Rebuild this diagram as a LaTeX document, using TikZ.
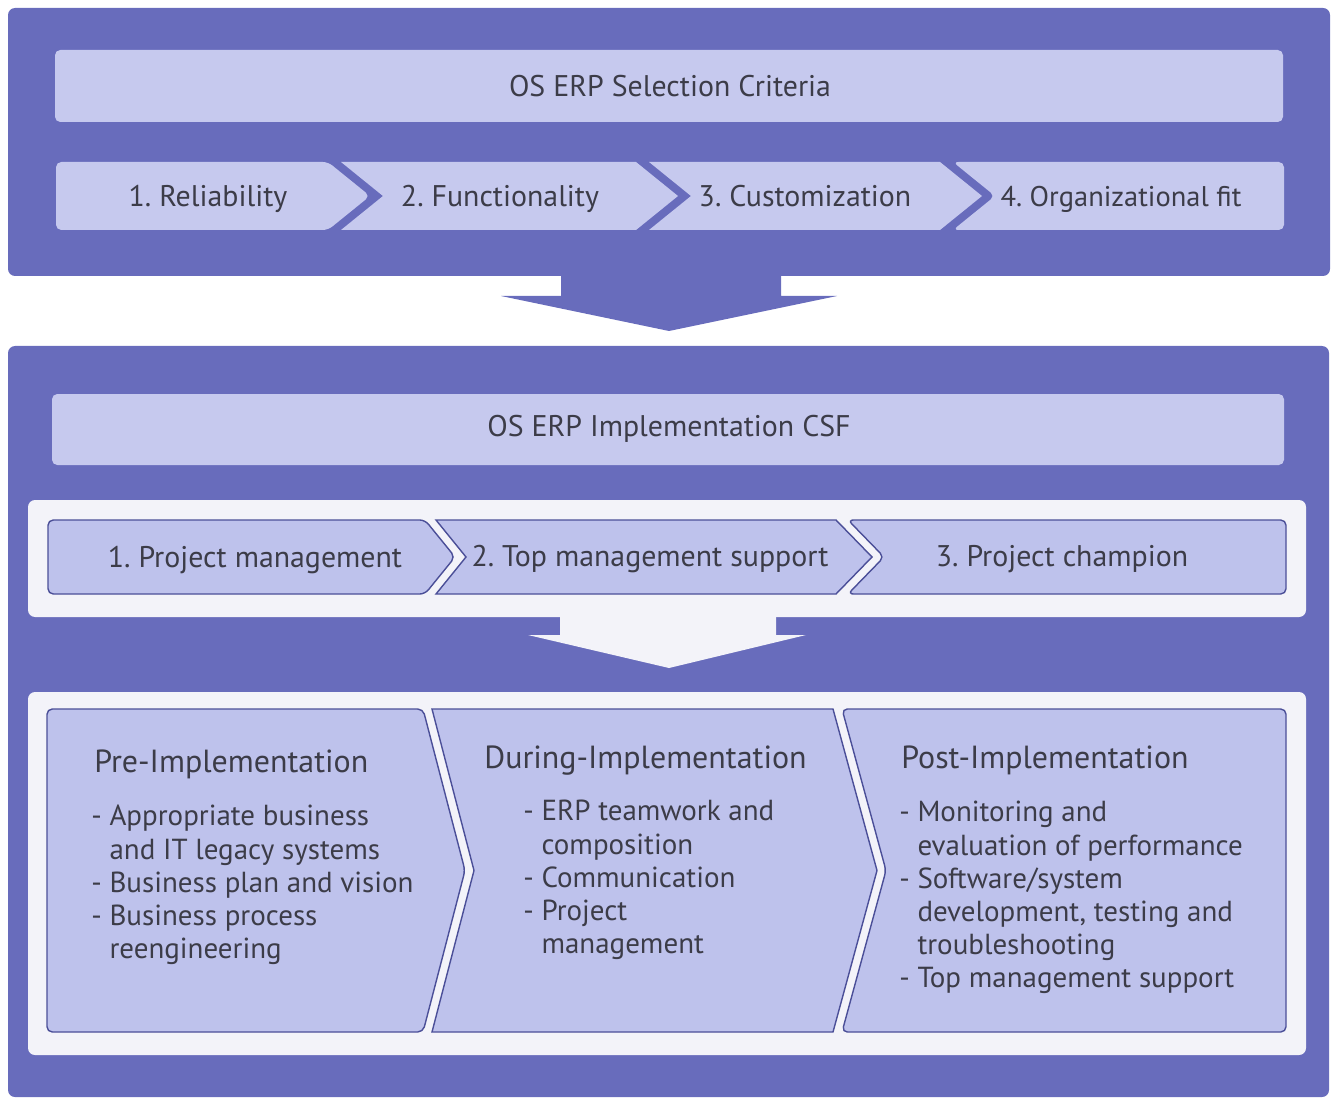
\documentclass[tikz,border=0pt]{standalone}
\usepackage{fontspec}
\setmainfont{PT Sans}
\frenchspacing
\definecolor{boxblue}{RGB}{104,108,188}
\definecolor{barblue}{RGB}{198,201,238}
\definecolor{chevblue}{RGB}{190,194,236}
\definecolor{edgeblue}{RGB}{75,79,152}
\definecolor{panelwhite}{RGB}{243,243,249}
\definecolor{inkgray}{RGB}{60,60,72}
% chevron: [style](left,top)(right,bottom)(notch:tip)
\def\chevron[#1](#2,#3)(#4,#5)(#6:#7){\path[#1] (#2,#3) -- (#4,#3) -- ({#4+#7},{(#3+#5)/2}) -- (#4,#5) -- (#2,#5) -- ({#2+#6},{(#3+#5)/2}) -- cycle;}

\begin{document}
\begin{tikzpicture}[x=0.02cm,y=-0.02cm,
	lbl/.style={text=inkgray,font=\fontsize{17}{20}\selectfont,inner sep=0pt,text height=1.5ex,text depth=0.3ex,yshift=-2.8pt},
	head/.style={text=inkgray,font=\fontsize{18.2}{21}\selectfont,inner sep=0pt,anchor=west,text height=1.5ex,text depth=0.3ex,yshift=-2.8pt},
	items/.style={text=inkgray,font=\fontsize{16.5}{18.9}\selectfont,inner sep=0pt,anchor=north west,align=left}]
	%%%%% START %%%%%
	\def\tipd{42}
	\def\rr{3pt}
	\useasboundingbox (0,0) rectangle (1337,1104);

	% selection criteria block
	\fill[boxblue,rounded corners=4pt] (8,8) rectangle (1330,276);
	\fill[barblue,rounded corners=\rr] (55,50) rectangle (1283,122);
	\node[lbl] (sel) at (670,86) {OS ERP Selection Criteria};

	\chevron[fill=barblue,rounded corners=\rr](56,162)(328,230)(0:\tipd)
	\chevron[fill=barblue](341,162)(636,230)(\tipd:\tipd)
	\chevron[fill=barblue](649,162)(940,230)(\tipd:\tipd)
	\chevron[fill=barblue,rounded corners=\rr](953,162)(1284,230)(\tipd:0)
	\node[lbl] (rel) at (208,196) {1. Reliability};
	\node[lbl] (fun) at (500,196) {2. Functionality};
	\node[lbl] (cus) at (805,196) {3. Customization};
	\node[lbl,font=\fontsize{16.2}{19}\selectfont] (org) at (1121,196) {4. Organizational fit};

	% arrow down
	\fill[boxblue] (561,270) -- (561,296) -- (501,296) -- (669,331) -- (837,296) -- (781,296) -- (781,270) -- cycle;

	% implementation block
	\fill[boxblue,rounded corners=4pt] (8,346) rectangle (1329,1097);
	\fill[barblue,rounded corners=\rr] (52,394) rectangle (1284,465);
	\node[lbl] (imp) at (669,426) {OS ERP Implementation CSF};

	\fill[panelwhite,rounded corners=4pt] (28,500) rectangle (1306,617);
	\chevron[fill=chevblue,draw=edgeblue,line width=0.8pt,rounded corners=\rr](48,520)(425,594)(0:30)
	\chevron[fill=chevblue,draw=edgeblue,line width=0.8pt](436,520)(836,594)(30:36)
	\chevron[fill=chevblue,draw=edgeblue,line width=0.8pt,rounded corners=\rr](848,520)(1286,594)(36:0)
	\node[lbl] (pm) at (255,557) {1. Project management};
	\node[lbl] (tms) at (650,556) {2. Top management support};
	\node[lbl] (pc) at (1062,556) {3. Project champion};

	% white arrow
	\fill[panelwhite] (560,610) -- (560,635) -- (528,635) -- (669,668) -- (806,635) -- (776,635) -- (776,610) -- cycle;

	\fill[panelwhite,rounded corners=4pt] (28,692) rectangle (1306,1055);
	\chevron[fill=chevblue,draw=edgeblue,line width=0.8pt,rounded corners=\rr](47,709)(423,1032)(0:42)
	\chevron[fill=chevblue,draw=edgeblue,line width=0.8pt](432,709)(833,1032)(42:44)
	\chevron[fill=chevblue,draw=edgeblue,line width=0.8pt,rounded corners=\rr](842,709)(1286,1032)(44:0)

	\node[head] (pre) at (94,762) {Pre-Implementation};
	\node[items] (prel) at (91,805) {- Appropriate business\\\phantom{- }and IT legacy systems\\- Business plan and vision\\- Business process\\\phantom{- }reengineering};
	\node[head] (dur) at (484,758) {During-Implementation};
	\node[items] (durl) at (523,800) {- ERP teamwork and\\\phantom{- }composition\\- Communication\\- Project\\\phantom{- }management};
	\node[head] (post) at (901,758) {Post-Implementation};
	\node[items] (postl) at (899,801) {- Monitoring and\\\phantom{- }evaluation of performance\\- Software/system\\\phantom{- }development, testing and\\\phantom{- }troubleshooting\\- Top management support};
	%%%%% END %%%%%
\end{tikzpicture}
\end{document}
